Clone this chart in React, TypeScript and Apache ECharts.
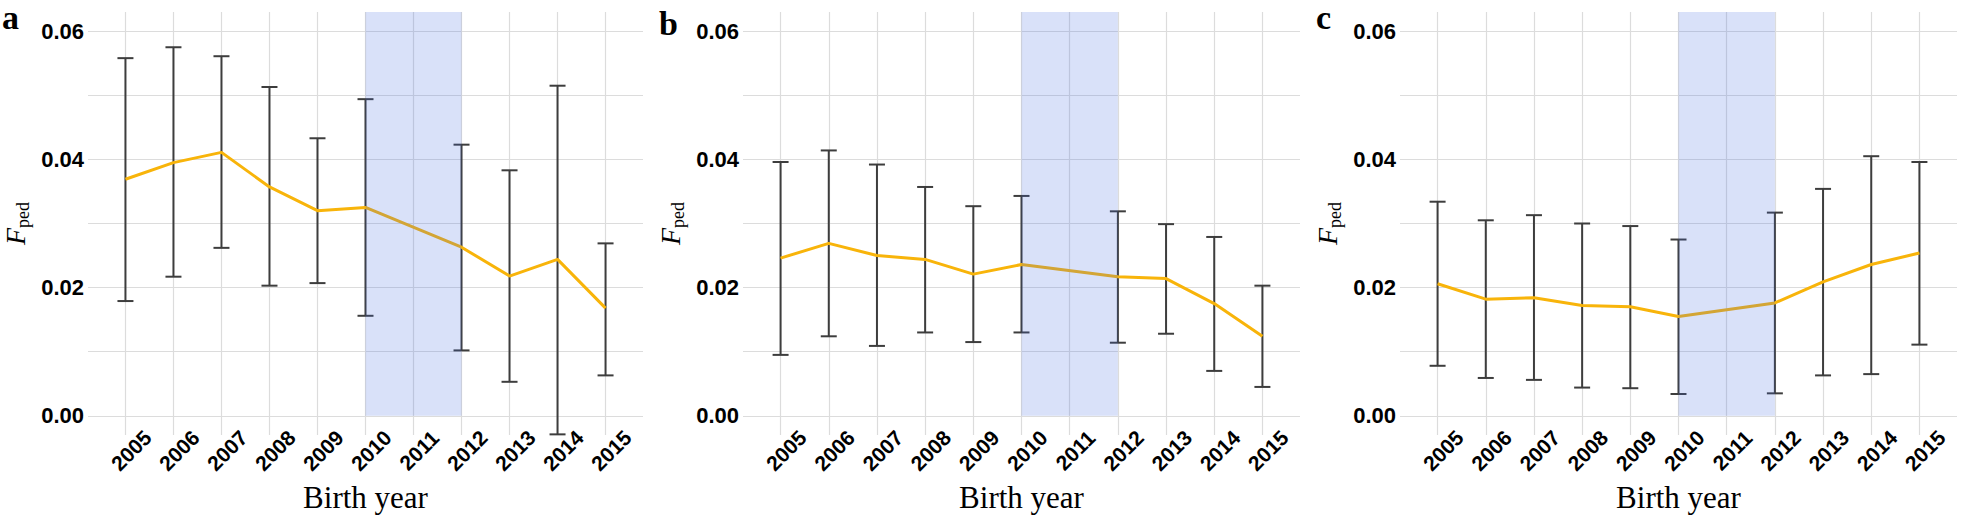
import React, { useEffect, useRef } from "react";
import * as echarts from "echarts";

const YEARS = [2005, 2006, 2007, 2008, 2009, 2010, 2011, 2012, 2013, 2014, 2015];
const PANEL_LABELS = ["a", "b", "c"];
const Y_TICKS = [0, 0.01, 0.02, 0.03, 0.04, 0.05, 0.06];
const Y_LABELS = [0, 0.02, 0.04, 0.06];
const Y_MIN = -0.003;
const Y_MAX = 0.063;
const X_MIN = 2004.22;
const X_MAX = 2015.78;
const BAND = [2010, 2012];

const A_MEAN = [0.0369, 0.0395, 0.0411, 0.0357, 0.032, 0.0325, null, 0.0263, 0.0218, 0.0244, 0.0168];
const A_LOW = [0.0179, 0.0217, 0.0262, 0.0203, 0.0207, 0.0156, null, 0.0102, 0.0053, -0.0029, 0.0063];
const A_HIGH = [0.0558, 0.0575, 0.0561, 0.0513, 0.0433, 0.0494, null, 0.0423, 0.0383, 0.0515, 0.0269];

const B_MEAN = [0.0246, 0.0269, 0.025, 0.0244, 0.0221, 0.0236, null, 0.0217, 0.0214, 0.0175, 0.0124];
const B_LOW = [0.0095, 0.0124, 0.0109, 0.013, 0.0115, 0.013, null, 0.0114, 0.0128, 0.007, 0.0045];
const B_HIGH = [0.0396, 0.0414, 0.0392, 0.0357, 0.0327, 0.0343, null, 0.0319, 0.0299, 0.0279, 0.0203];

const C_MEAN = [0.0206, 0.0182, 0.0184, 0.0172, 0.017, 0.0155, null, 0.0176, 0.0209, 0.0236, 0.0254];
const C_LOW = [0.0078, 0.0059, 0.0056, 0.0044, 0.0043, 0.0034, null, 0.0035, 0.0063, 0.0065, 0.0111];
const C_HIGH = [0.0334, 0.0305, 0.0313, 0.03, 0.0296, 0.0275, null, 0.0317, 0.0354, 0.0405, 0.0396];

const PANELS = [
  { mean: A_MEAN, low: A_LOW, high: A_HIGH },
  { mean: B_MEAN, low: B_LOW, high: B_HIGH },
  { mean: C_MEAN, low: C_LOW, high: C_HIGH },
];

const GRID_LEFTS = [86, 743, 1400];
const GRID_W = 557;
const GRID_TOP = 12;
const GRID_H = 423;

const SANS = "'Liberation Sans', Arial, sans-serif";
const SERIF = "'Liberation Serif', 'Times New Roman', serif";

export default function App() {
  const ref = useRef<HTMLDivElement>(null);

  useEffect(() => {
    document.body.style.margin = "0";
    if (!ref.current) return;
    const chart = echarts.init(ref.current, undefined, { renderer: "svg" });

    const grids: any[] = [];
    const xAxes: any[] = [];
    const yAxes: any[] = [];
    const series: any[] = [];
    const graphics: any[] = [];

    PANELS.forEach((p, i) => {
      grids.push({ left: GRID_LEFTS[i], top: GRID_TOP, width: GRID_W, height: GRID_H, containLabel: false });
      xAxes.push({
        type: "value",
        gridIndex: i,
        min: X_MIN,
        max: X_MAX,
        axisLine: { show: false },
        axisTick: { show: false, customValues: YEARS },
        axisLabel: {
          customValues: YEARS,
          rotate: 45,
          align: "center",
          verticalAlign: "middle",
          margin: 21,
          padding: [0, 0, 0, 16],
          fontFamily: SANS,
          fontWeight: "bold",
          fontSize: 21,
          color: "#000",
          formatter: (v: number) => String(v),
        },
        splitLine: { show: true, lineStyle: { color: "#dcdcdc", width: 1.2 } },
        name: "Birth year",
        nameLocation: "middle",
        nameGap: 47,
        nameTextStyle: { fontFamily: SERIF, fontSize: 31, color: "#000" },
      });
      yAxes.push({
        type: "value",
        gridIndex: i,
        min: Y_MIN,
        max: Y_MAX,
        axisLine: { show: false },
        axisTick: { show: false, customValues: Y_TICKS },
        axisLabel: {
          customValues: Y_LABELS,
          margin: 4,
          fontFamily: SANS,
          fontWeight: "bold",
          fontSize: 22,
          color: "#000",
          formatter: (v: number) => v.toFixed(2),
        },
        splitLine: { show: true, lineStyle: { color: "#dcdcdc", width: 1.2 } },
        name: "{f|F}{s|ped}",
        nameLocation: "middle",
        nameGap: 56,
        nameTextStyle: {
          rich: {
            f: { fontFamily: SERIF, fontStyle: "italic", fontSize: 28, color: "#000", lineHeight: 34, verticalAlign: "middle" },
            s: { fontFamily: SERIF, fontSize: 18, color: "#000", lineHeight: 14, verticalAlign: "bottom" },
          },
        },
      });

      const meanData = YEARS.map((y, k) => [y, p.mean[k]]).filter((d) => d[1] !== null);
      const errData = YEARS.map((y, k) => [y, p.low[k], p.high[k]]).filter((d) => d[1] !== null);

      series.push({
        type: "custom",
        xAxisIndex: i,
        yAxisIndex: i,
        z: 2,
        silent: true,
        encode: { x: 0, y: [1, 2] },
        data: errData,
        renderItem: (params: any, api: any) => {
          const x = api.value(0);
          const lo = api.coord([x, api.value(1)]);
          const hi = api.coord([x, api.value(2)]);
          const hw = 8;
          const style = { stroke: "#3d3d3d", lineWidth: 2 };
          return {
            type: "group",
            children: [
              { type: "line", shape: { x1: lo[0], y1: lo[1], x2: hi[0], y2: hi[1] }, style },
              { type: "line", shape: { x1: hi[0] - hw, y1: hi[1], x2: hi[0] + hw, y2: hi[1] }, style },
              { type: "line", shape: { x1: lo[0] - hw, y1: lo[1], x2: lo[0] + hw, y2: lo[1] }, style },
            ],
          };
        },
      });
      series.push({
        type: "line",
        xAxisIndex: i,
        yAxisIndex: i,
        z: 3,
        silent: true,
        showSymbol: false,
        data: meanData,
        lineStyle: { color: "#F8B40A", width: 3 },
        markArea: {
          silent: true,
          z: 10,
          itemStyle: { color: "rgba(65,105,225,0.2)" },
          data: [[{ xAxis: BAND[0], yAxis: 0 }, { xAxis: BAND[1], yAxis: Y_MAX }]],
        },
      });

      graphics.push({
        type: "text",
        x: GRID_LEFTS[i] - 84,
        y: i === 1 ? 6 : 0,
        style: {
          text: PANEL_LABELS[i],
          fontFamily: SERIF,
          fontWeight: "bold",
          fontSize: 34,
          fill: "#000",
          verticalAlign: "top",
          align: "left",
        },
      });
    });

    chart.setOption({
      animation: false,
      backgroundColor: "#fff",
      grid: grids,
      xAxis: xAxes,
      yAxis: yAxes,
      series,
      graphic: graphics,
    });

    return () => chart.dispose();
  }, []);

  return <div ref={ref} style={{ width: 1962, height: 518 }} />;
}
